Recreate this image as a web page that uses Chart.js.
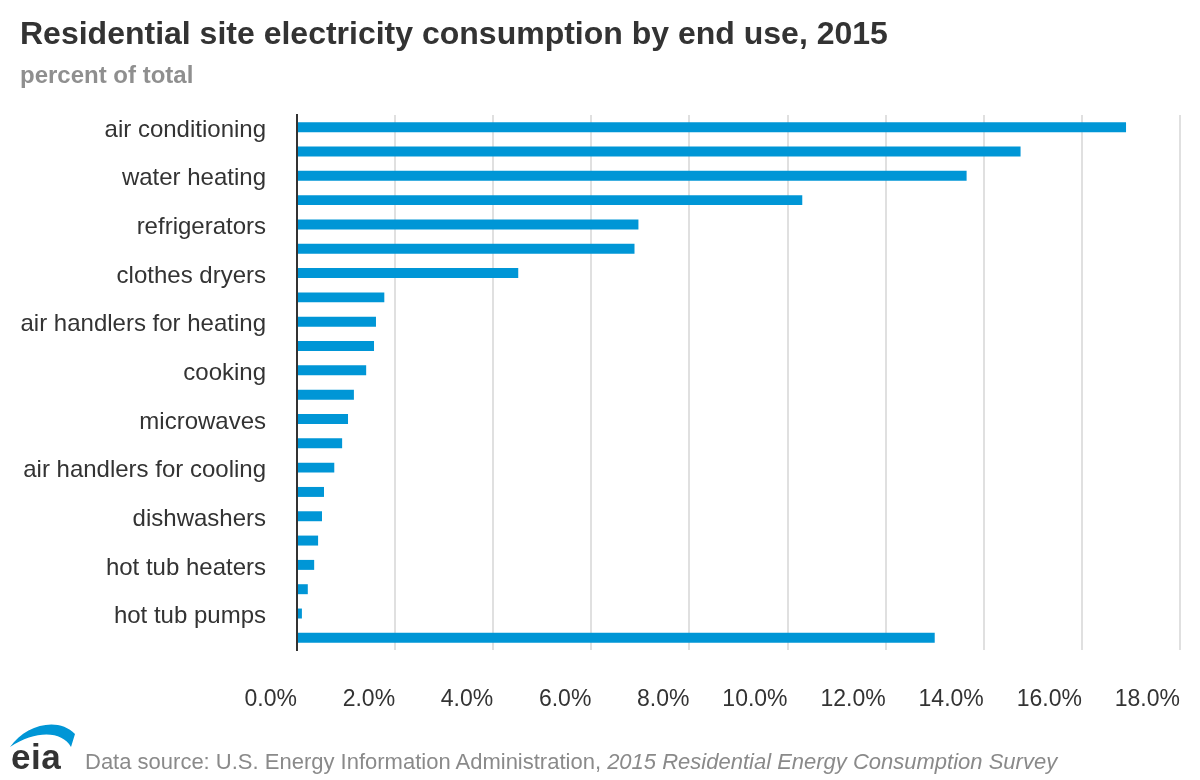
<!DOCTYPE html>
<html><head><meta charset="utf-8">
<script src="https://cdn.jsdelivr.net/npm/chart.js@4/dist/chart.umd.min.js"></script>
<style>
html,body{margin:0;padding:0;background:#fff;}
body{width:1200px;height:780px;overflow:hidden;position:relative;font-family:"Liberation Sans",Arial,sans-serif;}
#title{position:absolute;left:20px;top:15px;font-size:32px;font-weight:bold;color:#333;white-space:nowrap;}
#sub{position:absolute;left:20px;top:61px;font-size:24px;font-weight:bold;color:#8f8f8f;white-space:nowrap;}
#wrap{position:absolute;left:0;top:0;width:1200px;height:780px;}
#foot{position:absolute;left:85px;top:749px;font-size:22px;color:#8a8a8a;white-space:nowrap;}
#logo{position:absolute;left:0;top:710px;}
</style></head><body>
<div id="wrap"><canvas id="c" width="1200" height="780"></canvas></div>
<div id="title">Residential site electricity consumption by end use, 2015</div>
<div id="sub">percent of total</div>
<svg id="logo" width="90" height="70" viewBox="0 0 90 70">
<path d="M10 37 C25 15, 58 6, 75 24 L71 37 C62 21, 36 20, 10 37 Z" fill="#0096d6"/>
<text x="11" y="59" font-family="Liberation Sans, Arial, sans-serif" font-size="35" font-weight="bold" fill="#333" letter-spacing="0.5">eia</text>
</svg>
<div id="foot">Data source: U.S. Energy Information Administration, <i>2015 Residential Energy Consumption Survey</i></div>
<script>
const categories = [
  'air conditioning', 'space heating', 'water heating', 'lighting',
  'refrigerators', 'televisions and related equipment', 'clothes dryers', 'freezers',
  'air handlers for heating', 'computers and related equipment', 'cooking', 'pool pumps',
  'microwaves', 'dehumidifiers', 'air handlers for cooling', 'clothes washers',
  'dishwashers', 'ceiling fans', 'hot tub heaters', 'pool heaters',
  'hot tub pumps', 'other'
];
const shares = [
  16.9, 14.75, 13.65, 10.3,
  6.96, 6.88, 4.51, 1.78,
  1.61, 1.57, 1.41, 1.16,
  1.04, 0.92, 0.76, 0.55,
  0.51, 0.43, 0.35, 0.22,
  0.10, 13.0
];
const shownLabels = [
  'air conditioning', 'water heating', 'refrigerators', 'clothes dryers',
  'air handlers for heating', 'cooking', 'microwaves', 'air handlers for cooling',
  'dishwashers', 'hot tub heaters', 'hot tub pumps'
];
const xTickLabels = ['0.0%','2.0%','4.0%','6.0%','8.0%','10.0%','12.0%','14.0%','16.0%','18.0%'];

const FONT = '"Liberation Sans", Arial, sans-serif';
new Chart(document.getElementById('c'), {
  type: 'bar',
  data: {
    labels: categories,
    datasets: [{
      data: shares,
      backgroundColor: '#0096d6',
      barPercentage: 0.41,
      categoryPercentage: 1.0
    }]
  },
  options: {
    indexAxis: 'y',
    responsive: false,
    animation: false,
    layout: { padding: { top: 115, right: 20, left: 0, bottom: 0 } },
    plugins: { legend: { display: false }, tooltip: { enabled: false } },
    scales: {
      x: {
        min: 0, max: 18,
        ticks: {
          stepSize: 2,
          align: 'end',
          padding: 36,
          color: '#333',
          font: { family: FONT, size: 23 },
          callback: (v, i) => xTickLabels[i]
        },
        grid: { color: '#e0e0e0', lineWidth: 2, drawTicks: false },
        border: { display: false },
        afterFit: s => { s.height = 130; s.paddingRight = 0; s.paddingLeft = 0; }
      },
      y: {
        ticks: {
          autoSkip: false,
          padding: 31,
          labelOffset: 3,
          color: '#333',
          font: { family: FONT, size: 24 },
          callback: function(v) {
            const l = this.getLabelForValue(v);
            return shownLabels.includes(l) ? l : '';
          }
        },
        grid: { display: false, drawTicks: false },
        border: { display: true, color: '#333', width: 2 },
        afterFit: s => { s.width = 297; }
      }
    }
  }
});
</script>
</body></html>
